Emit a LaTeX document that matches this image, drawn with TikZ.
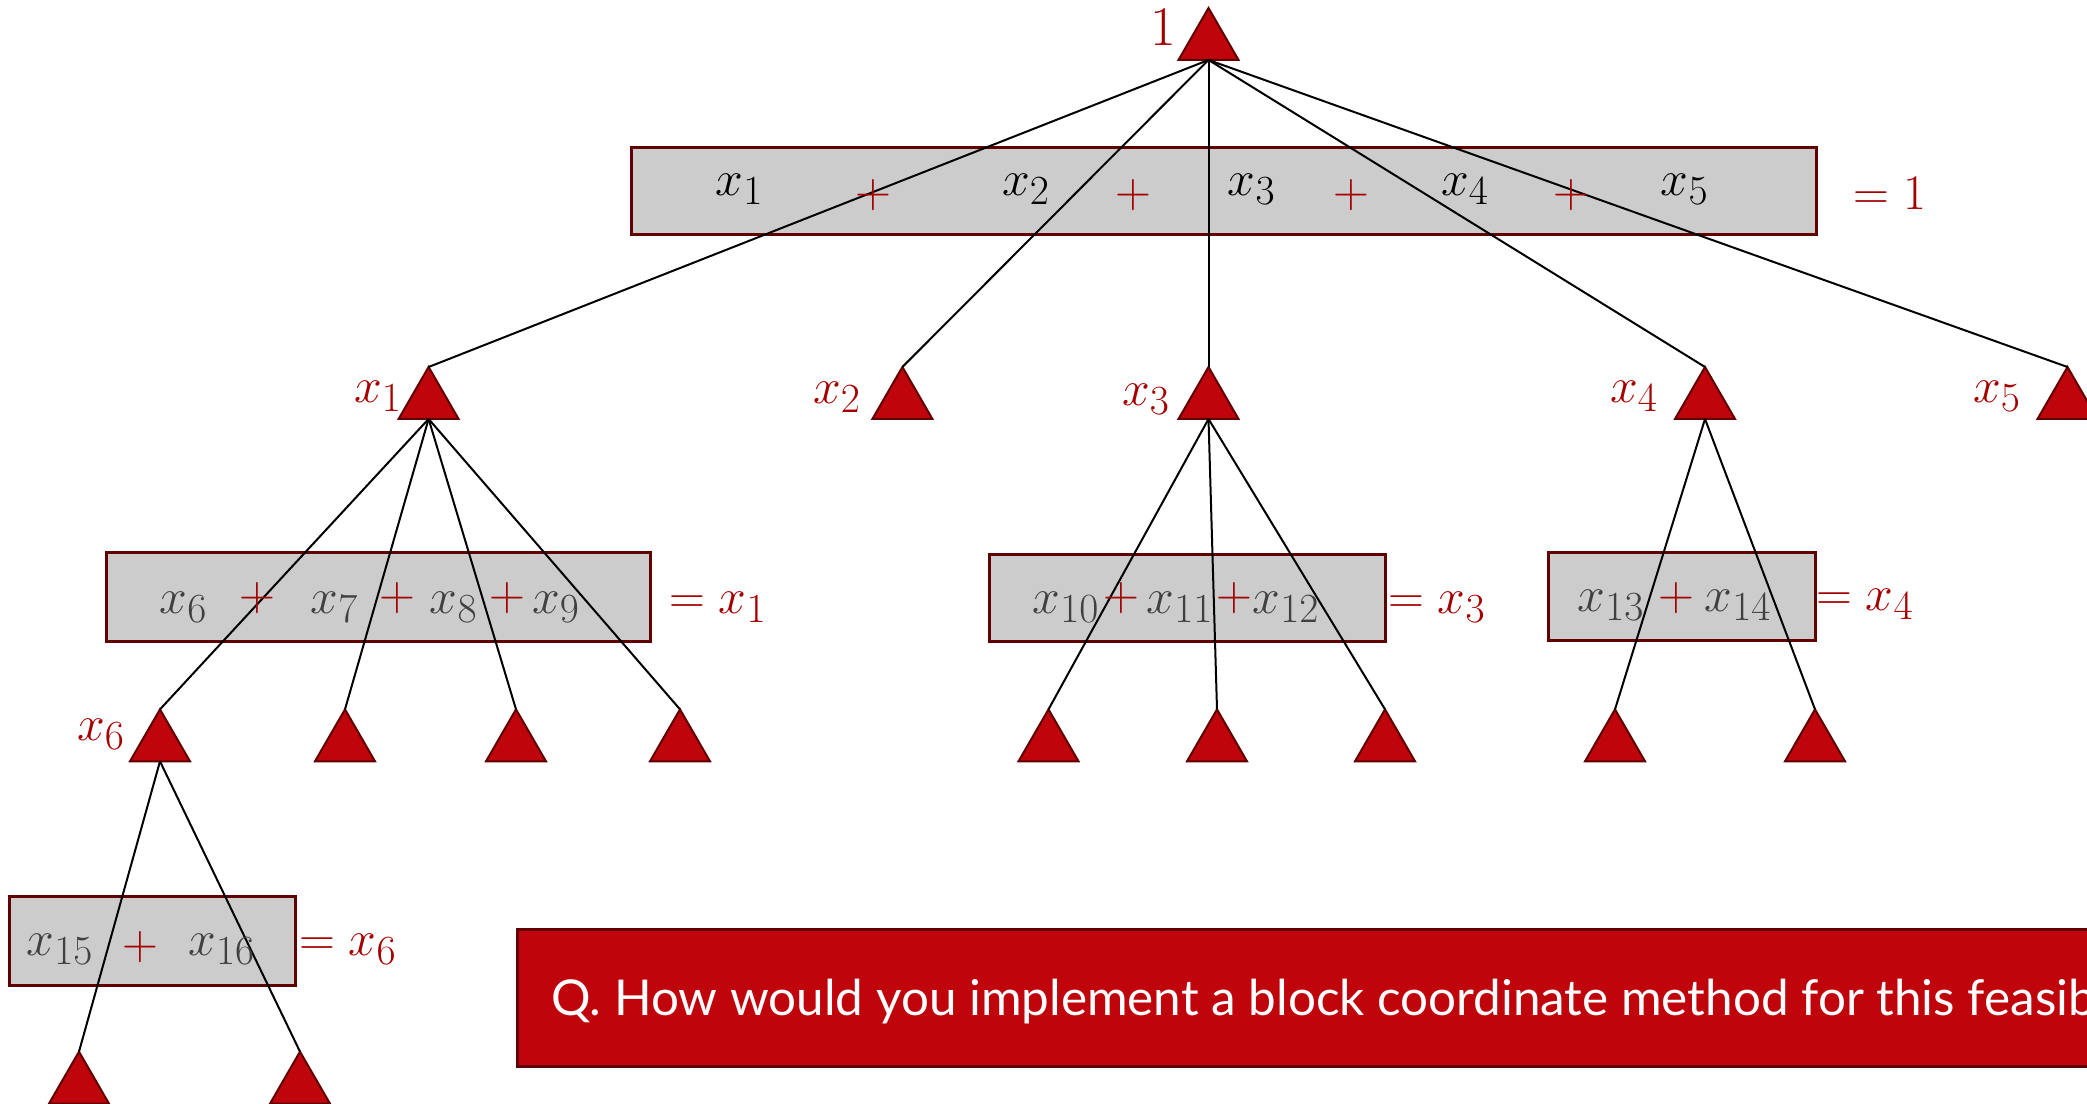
\documentclass[tikz,border=0pt]{standalone}
\usepackage{fontspec}
\newfontfamily\qfont{Lato}
\usetikzlibrary{shapes.geometric,fit}
\definecolor{trired}{RGB}{192,4,12}
\definecolor{darkmaroon}{RGB}{96,0,0}
\definecolor{boxgray}{RGB}{204,204,204}
\definecolor{lblred}{RGB}{165,0,0}
\definecolor{txtgray}{RGB}{64,64,64}
\begin{document}
\begin{tikzpicture}[x=0.5pt,y=-0.5pt,
  tri/.style={regular polygon, regular polygon sides=3, minimum size=34.64pt,
    inner sep=0pt, outer sep=0pt, fill=trired, draw=darkmaroon, line width=1pt},
  gbox/.style={fill=boxgray, draw=darkmaroon, line width=1.5pt, inner sep=0pt, outer sep=0pt},
  qbox/.style={fill=trired, draw=darkmaroon, line width=1.5pt, inner sep=0pt, outer sep=0pt},
  conn/.style={black, line width=1pt},
  mt/.style={font=\fontsize{28}{32}\selectfont, inner sep=0pt, anchor=base},
  blk/.style={mt, text=black},
  gry/.style={mt, text=txtgray},
  rlbl/.style={mt, text=lblred},
  plus/.style={mt, text=lblred, anchor=center},
  qtext/.style={font=\qfont\fontsize{24.7}{29}\selectfont, text=white, inner sep=0pt, anchor=base west}
]
\useasboundingbox (0,0) rectangle (2087,1103);
\clip (0,0) rectangle (2087,1103);

% boxes
\node[gbox, fit={(631,147.5) (1816,234.5)}] (b0) {};
\node[gbox, fit={(106,552) (650,641)}] (b1) {};
\node[gbox, fit={(989.5,554) (1385.5,641.5)}] (b3) {};
\node[gbox, fit={(1548,552.5) (1815,640.5)}] (b4) {};
\node[gbox, fit={(9,896.5) (295,985)}] (b6) {};
\node[qbox, fit={(517,929) (2110,1066)}] (qb) {};

% triangles
\node[tri] (r) at (1208.5,42.64) {};
\node[tri] (t1) at (428.6,401.64) {};
\node[tri] (t2) at (902.4,401.64) {};
\node[tri] (t3) at (1208.5,401.64) {};
\node[tri] (t4) at (1705,401.64) {};
\node[tri] (t5) at (2067.5,401.64) {};
\node[tri] (t11) at (160,744) {};
\node[tri] (t12) at (345,744) {};
\node[tri] (t13) at (516,744) {};
\node[tri] (t14) at (680,744) {};
\node[tri] (t31) at (1048.5,744) {};
\node[tri] (t32) at (1217,744) {};
\node[tri] (t33) at (1385,744) {};
\node[tri] (t41) at (1615,744) {};
\node[tri] (t42) at (1815,744) {};
\node[tri] (t111) at (79,1086.3) {};
\node[tri] (t112) at (300,1086.3) {};

% connectors
\foreach \c in {t1,t2,t3,t4,t5} \draw[conn] (r.south) -- (\c.north);
\foreach \c in {t11,t12,t13,t14} \draw[conn] (t1.south) -- (\c.north);
\foreach \c in {t31,t32,t33} \draw[conn] (t3.south) -- (\c.north);
\foreach \c in {t41,t42} \draw[conn] (t4.south) -- (\c.north);
\foreach \c in {t111,t112} \draw[conn] (t11.south) -- (\c.north);

% top box text
\node[blk] (a1) at (739.6,195) {$x_1$};
\node[blk] (a2) at (1026,195) {$x_2$};
\node[blk] (a3) at (1251.8,195) {$x_3$};
\node[blk] (a4) at (1465,195) {$x_4$};
\node[blk] (a5) at (1684.8,195) {$x_5$};
\node[plus] (p01) at (873.8,195) {$+$};
\node[plus] (p02) at (1133.8,195) {$+$};
\node[plus] (p03) at (1351.6,195) {$+$};
\node[plus] (p04) at (1571,195) {$+$};
\node[rlbl] (e0) at (1890,209) {$=1$};

% triangle labels
\node[rlbl] (l0) at (1163,46) {1};
\node[rlbl] (l1) at (378,402) {$x_1$};
\node[rlbl] (l2) at (837,403) {$x_2$};
\node[rlbl] (l3) at (1146,405) {$x_3$};
\node[rlbl] (l4) at (1634,402) {$x_4$};
\node[rlbl] (l5) at (1997,402) {$x_5$};
\node[rlbl] (l6) at (101,740) {$x_6$};

% x1 box
\node[gry] (c6) at (183.6,613) {$x_6$};
\node[gry] (c7) at (334.5,613) {$x_7$};
\node[gry] (c8) at (453.7,613) {$x_8$};
\node[gry] (c9) at (556,613) {$x_9$};
\node[plus] (p11) at (257.7,598) {$+$};
\node[plus] (p12) at (397,598) {$+$};
\node[plus] (p13) at (507.7,598) {$+$};
\node[rlbl] (e1) at (718,613) {$=x_1$};

% x3 box
\node[gry] (c10) at (1066,613) {$x_{10}$};
\node[gry] (c11) at (1180,613) {$x_{11}$};
\node[gry] (c12) at (1286,613) {$x_{12}$};
\node[plus] (p31) at (1121,598) {$+$};
\node[plus] (p32) at (1234,598) {$+$};
\node[rlbl] (e3) at (1437,613) {$=x_3$};

% x4 box
\node[gry] (c13) at (1611,611) {$x_{13}$};
\node[gry] (c14) at (1738,611) {$x_{14}$};
\node[plus] (p41) at (1676,598) {$+$};
\node[rlbl] (e4) at (1865,610) {$=x_4$};

% x6 box
\node[gry] (c15) at (60,955) {$x_{15}$};
\node[gry] (c16) at (221.7,955) {$x_{16}$};
\node[plus] (p61) at (140,946.7) {$+$};
\node[rlbl] (e6) at (348,955) {$=x_6$};

% question
\node[qtext] (q) at (551,1015) {Q. How would you implement a block coordinate method for this feasibility problem?};
\end{tikzpicture}
\end{document}
